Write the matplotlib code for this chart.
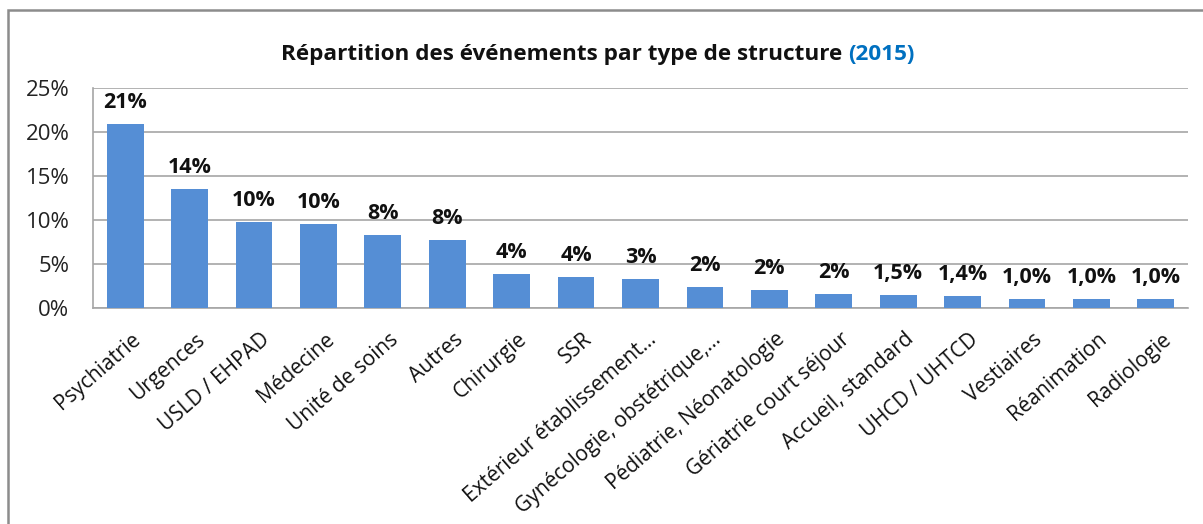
import matplotlib
matplotlib.use("Agg")
import matplotlib.pyplot as plt
import matplotlib.transforms as mtransforms
from matplotlib.patches import Rectangle

categories = ["Psychiatrie", "Urgences", "USLD / EHPAD", "Médecine", "Unité de soins",
              "Autres", "Chirurgie", "SSR", "Extérieur établissement…",
              "Gynécologie, obstétrique,…", "Pédiatrie, Néonatologie",
              "Gériatrie court séjour", "Accueil, standard", "UHCD / UHTCD",
              "Vestiaires", "Réanimation", "Radiologie"]
values = [20.9, 13.5, 9.8, 9.5, 8.3, 7.7, 3.9, 3.5, 3.3, 2.4, 2.0, 1.6, 1.5, 1.4, 1.0, 1.0, 1.0]
value_labels = ["21%", "14%", "10%", "10%", "8%", "8%", "4%", "4%", "3%", "2%", "2%", "2%",
                "1,5%", "1,4%", "1,0%", "1,0%", "1,0%"]
yticks = [0, 5, 10, 15, 20, 25]
ytick_labels = ["0%", "5%", "10%", "15%", "20%", "25%"]

plt.rcParams['font.family'] = ['Open Sans', 'DejaVu Sans']

W, H = 1203, 524
fig = plt.figure(figsize=(W / 100, H / 100), dpi=100)
ax = fig.add_axes([93 / W, 1 - 308 / H, (1188 - 93) / W, (308 - 88) / H])

x = list(range(len(categories)))
ax.bar(x, values, width=0.57, color="#558ED5", zorder=3)
ax.set_xlim(-0.5, len(categories) - 0.5)
ax.set_ylim(0, 25)
ax.set_yticks(yticks)
ax.set_yticklabels(ytick_labels, fontsize=16, color="#222222")
ax.set_xticks(x)
ax.set_xticklabels(categories, rotation=41, ha="right", rotation_mode="anchor",
                   fontsize=15, color="#111111")
ax.tick_params(axis="both", length=0)
ax.tick_params(axis="y", pad=17)
ax.tick_params(axis="x", pad=15)
shift = mtransforms.ScaledTranslation(6 / 100, 0, fig.dpi_scale_trans)
for lbl in ax.get_xticklabels():
    lbl.set_transform(lbl.get_transform() + shift)
ax.yaxis.grid(True, color="#A6A6A6", linewidth=1.2, zorder=0)
for s in ["top", "right"]:
    ax.spines[s].set_visible(False)
for s in ["left", "bottom"]:
    ax.spines[s].set_color("#A6A6A6")
    ax.spines[s].set_linewidth(1.2)

for xi, v, lab in zip(x, values, value_labels):
    ax.annotate(lab, (xi, v), xytext=(0, 11.5), textcoords="offset points",
                ha="center", va="baseline", fontsize=15.5, fontweight="bold", color="#111111")

# Title in two colours
t1 = fig.text(0.5, 1 - 60 / H, "Répartition des événements par type de structure ",
              fontsize=16.2, fontweight="bold", color="#111111", ha="left", va="baseline")
t2 = fig.text(0.5, 1 - 60 / H, "(2015)", fontsize=16.2, fontweight="bold",
              color="#0070C0", ha="left", va="baseline")
fig.canvas.draw()
r = fig.canvas.get_renderer()
w1 = t1.get_window_extent(r).width
w2 = t2.get_window_extent(r).width
total = w1 + w2
start = (598 - total / 2)
t1.set_x(start / W)
t2.set_x((start + w1) / W)

# outer border (left and top visible)
fig.patches.append(Rectangle((7.5 / W, -0.1), 1.2, 1 - 10 / H + 0.1, transform=fig.transFigure,
                             fill=False, edgecolor="#8C8C8C", linewidth=1.8))

fig.savefig("out.png", dpi=100)
